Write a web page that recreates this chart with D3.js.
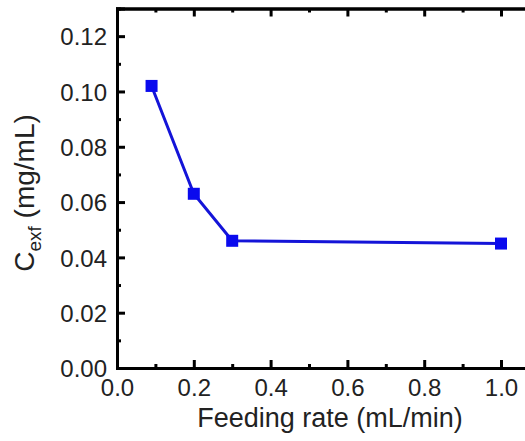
<!DOCTYPE html>
<html><head><meta charset="utf-8">
<script src="https://cdn.jsdelivr.net/npm/d3@7"></script>
<style>body{margin:0;background:#fff}svg{display:block}text{font-family:"Liberation Sans",Arial,sans-serif}</style>
</head><body>
<script>
const feedRate = [0.09, 0.2, 0.3, 1.0];
const cExf = [0.102, 0.063, 0.046, 0.045];
const xTicks = [0.0, 0.2, 0.4, 0.6, 0.8, 1.0];
const yTicks = [0.00, 0.02, 0.04, 0.06, 0.08, 0.10, 0.12];

const W = 525, H = 441;
const svg = d3.select("body").append("svg").attr("width", W).attr("height", H);
const x = d3.scaleLinear().domain([0, 1.1]).range([117, 539.4]);
const y = d3.scaleLinear().domain([0, 0.13]).range([368, 8.5]);

const xMinor = d3.range(0.1, 1.11, 0.2);
const yMinor = d3.range(0.01, 0.13, 0.02);

// bottom axis
const gB = svg.append("g").attr("transform", `translate(0,${y(0)})`);
gB.call(d3.axisBottom(x).tickValues(xTicks).tickSize(-8).tickPadding(11).tickFormat(d3.format(".1f")));
gB.append("g").call(d3.axisBottom(x).tickValues(xMinor).tickSize(-4).tickFormat(""));
// top axis
const gT = svg.append("g").attr("transform", `translate(0,${y(0.13)})`);
gT.call(d3.axisTop(x).tickValues(xTicks).tickSize(-8).tickFormat(""));
gT.append("g").call(d3.axisTop(x).tickValues(xMinor).tickSize(-4).tickFormat(""));
// left axis
const gL = svg.append("g").attr("transform", `translate(${x(0)},0)`);
gL.call(d3.axisLeft(y).tickValues(yTicks).tickSize(-8).tickPadding(10).tickFormat(d3.format(".2f")));
gL.append("g").call(d3.axisLeft(y).tickValues(yMinor).tickSize(-4).tickFormat(""));

svg.selectAll(".domain").attr("stroke", "#000").attr("stroke-width", 3);
svg.selectAll(".tick line").attr("stroke", "#000").attr("stroke-width", 3);
svg.selectAll(".tick text").attr("font-size", 24).attr("fill", "#222").attr("font-family", "Liberation Sans, Arial, sans-serif");
gL.selectAll(".tick text").attr("dy", "0.36em");

// line
const pts = feedRate.map((d, i) => [d, cExf[i]]);
svg.append("path").datum(pts)
  .attr("fill", "none").attr("stroke", "#1414d8").attr("stroke-width", 3)
  .attr("d", d3.line().x(d => x(d[0])).y(d => y(d[1])));
const s = 12;
svg.selectAll("rect.m").data(pts).enter().append("rect").attr("class", "m")
  .attr("x", d => x(d[0]) - s / 2).attr("y", d => y(d[1]) - s / 2)
  .attr("width", s).attr("height", s).attr("fill", "#0a0aee");

// axis titles
svg.append("text").attr("x", 330).attr("y", 427).attr("text-anchor", "middle")
  .attr("font-size", 27).attr("fill", "#222").text("Feeding rate (mL/min)");
const yl = svg.append("text").attr("transform", `translate(34,${193}) rotate(-90)`)
  .attr("text-anchor", "middle").attr("font-size", 28).attr("fill", "#222");
yl.append("tspan").text("C");
yl.append("tspan").attr("font-size", 19).attr("dy", 7).text("exf");
yl.append("tspan").attr("dy", -7).text(" (mg/mL)");
</script>
</body></html>
